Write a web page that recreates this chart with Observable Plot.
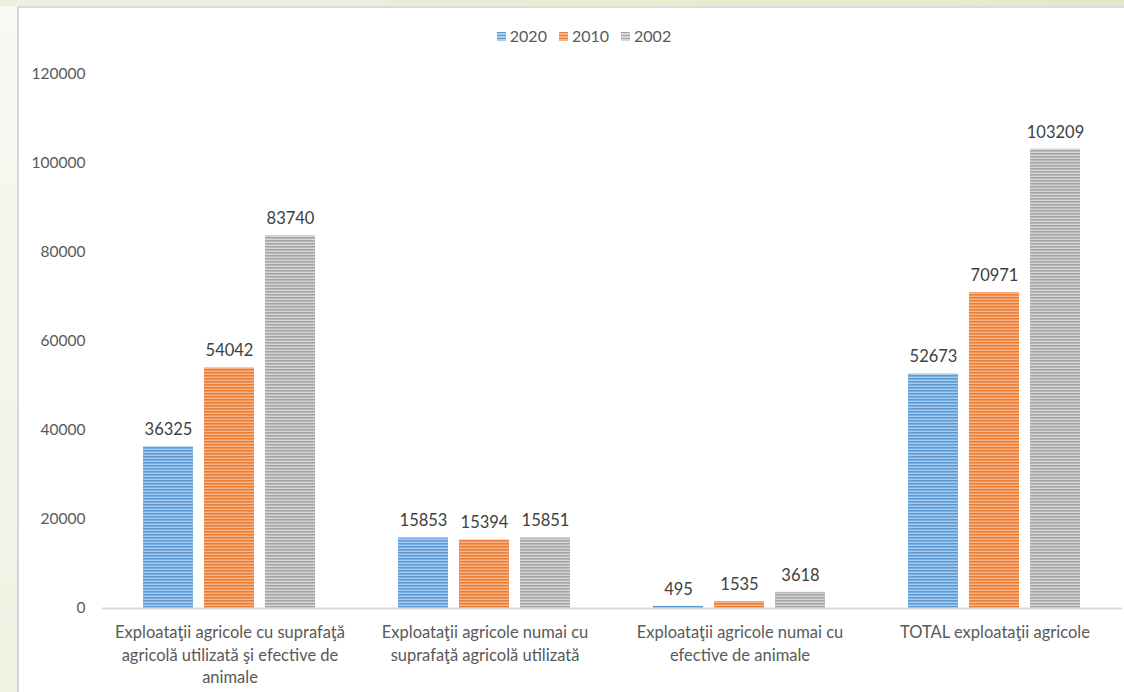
<!DOCTYPE html>
<html>
<head>
<meta charset="utf-8">
<script src="https://cdn.jsdelivr.net/npm/d3@7"></script>
<script src="https://cdn.jsdelivr.net/npm/@observablehq/plot@0.6"></script>
<style>
  html, body { margin: 0; padding: 0; }
  body { width: 1124px; height: 692px; position: relative; overflow: hidden;
         background: linear-gradient(180deg, #f8f9f4 0%, #eef2e2 100%); font-family: Lato, "Open Sans", sans-serif; }
  #topstrip { position: absolute; left: 0; top: 0; width: 1124px; height: 6px;
              background: linear-gradient(90deg, #eef1e2 0%, #e2eaca 100%); }
  #panel { position: absolute; left: 17px; top: 6px; right: 0; bottom: 0; background: #fff;
           border-left: 2px solid #d6d6d6; border-top: 2px solid #dcdcdc; }
  #chart { position: absolute; left: 0; top: 0; }
  #legend { position: absolute; left: 22px; width: 1124px; top: 26px; text-align: center;
            font-size: 16px; color: #595959; }
  #legend span.item { margin: 0 6px; }
  #legend span.sw { display: inline-block; width: 9px; height: 9px; margin-right: 4px; vertical-align: 1px; }
</style>
</head>
<body>
<div id="topstrip"></div>
<div id="panel"></div>
<div id="chart"></div>
<div id="legend"></div>
<script>
const categories = [
  "Exploataţii agricole cu suprafaţă agricolă utilizată şi efective de animale",
  "Exploataţii agricole numai cu suprafaţă agricolă utilizată",
  "Exploataţii agricole numai cu efective de animale",
  "TOTAL exploataţii agricole"
];
const categoryLabels = [
  "Exploataţii agricole cu suprafaţă\nagricolă utilizată şi efective de\nanimale",
  "Exploataţii agricole numai cu\nsuprafaţă agricolă utilizată",
  "Exploataţii agricole numai cu\nefective de animale",
  "TOTAL exploataţii agricole"
];
const years = ["2020", "2010", "2002"];
const values2020 = [36325, 15853, 495, 52673];
const values2010 = [54042, 15394, 1535, 70971];
const values2002 = [83740, 15851, 3618, 103209];
const yTicks = [0, 20000, 40000, 60000, 80000, 100000, 120000];
const baseColors = ["#5b9bd5", "#ed7d31", "#a5a5a5"];
const lightColors = ["#a9ccec", "#f6b68d", "#d6d6d6"];

const seriesValues = [values2020, values2010, values2002];
const data = [];
categories.forEach((c, i) => {
  years.forEach((y, j) => data.push({category: c, year: y, value: seriesValues[j][i]}));
});

const patternIds = years.map(y => "stripe" + y);

const plot = Plot.plot({
  width: 1124,
  height: 692,
  marginLeft: 102,
  marginRight: 2,
  marginTop: 74,
  marginBottom: 84,
  style: {background: "transparent", fontFamily: "Lato, 'Open Sans', sans-serif", fontSize: "15px", color: "#595959"},
  fx: {domain: categories, padding: 0, label: null},
  x: {domain: years, paddingInner: 0.18, paddingOuter: 0.68, axis: null},
  y: {domain: [0, 120000], ticks: yTicks, label: null},
  color: {domain: years, range: patternIds.map(id => `url(#${id})`)},
  marks: [
    Plot.axisY({ticks: yTicks, tickSize: 0, tickPadding: 17, tickFormat: d3.format("d"), fill: "#595959", fontSize: 15.5, label: null}),
    Plot.axisFx({anchor: "bottom", tickSize: 0, tickPadding: 14, tickFormat: d => categoryLabels[categories.indexOf(d)], fill: "#595959", fontSize: 16.5, lineHeight: 1.35, label: null}),
    Plot.barY(data, {fx: "category", x: "year", y: "value", fill: "year"}),
    Plot.ruleY([0], {stroke: "#d9d9d9", strokeWidth: 2}),
    Plot.text(data, {fx: "category", x: "year", y: "value", text: d => String(d.value), dy: -17, fill: "#404040", fontSize: 16.5})
  ]
});

// stripe patterns
const svg = d3.select(plot);
const defs = svg.insert("defs", ":first-child");
years.forEach((y, j) => {
  const p = defs.append("pattern").attr("id", patternIds[j])
    .attr("patternUnits", "userSpaceOnUse").attr("width", 8).attr("height", 3);
  p.append("rect").attr("width", 8).attr("height", 3).attr("fill", lightColors[j]);
  p.append("rect").attr("width", 8).attr("height", 1.6).attr("fill", baseColors[j]);
});

document.getElementById("chart").appendChild(plot);

const legend = d3.select("#legend");
years.forEach((y, j) => {
  const item = legend.append("span").attr("class", "item");
  item.append("span").attr("class", "sw").style("background",
    `repeating-linear-gradient(180deg, ${baseColors[j]} 0px, ${baseColors[j]} 1.5px, ${lightColors[j]} 1.5px, ${lightColors[j]} 3px)`);
  item.append("span").text(y);
});
</script>
</body>
</html>
